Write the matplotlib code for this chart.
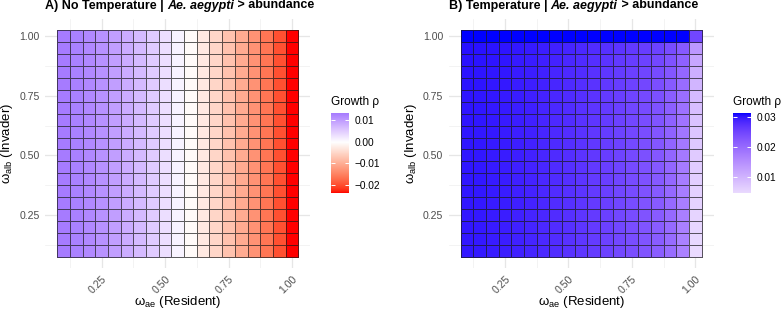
import numpy as np
import matplotlib
matplotlib.use("Agg")
import matplotlib.pyplot as plt
from matplotlib.colors import ListedColormap, Normalize

plt.rcParams["font.family"] = ["Liberation Sans", "DejaVu Sans"]
plt.rcParams["mathtext.fontset"] = "custom"
plt.rcParams["mathtext.rm"] = "Liberation Sans"
plt.rcParams["mathtext.it"] = "Liberation Sans:italic"
plt.rcParams["mathtext.bf"] = "Liberation Sans:bold"

# ---- data (growth rate, units of 1e-3) ----
omega_ae = [0.10, 0.15, 0.20, 0.25, 0.30, 0.35, 0.40, 0.45, 0.50, 0.55,
            0.60, 0.65, 0.70, 0.75, 0.80, 0.85, 0.90, 0.95, 1.00]
omega_alb = [0.10, 0.15, 0.20, 0.25, 0.30, 0.35, 0.40, 0.45, 0.50, 0.55,
             0.60, 0.65, 0.70, 0.75, 0.80, 0.85, 0.90, 0.95, 1.00]

# panel A: same value in every row, changes along omega_ae
rho_notemp_by_ae = [13.4, 12.8, 12.0, 11.0, 9.8, 8.4, 6.9, 5.2, 3.3, 1.2,
                    -0.6, -2.7, -5.0, -7.5, -10.2, -13.1, -16.2, -19.7, -23.5]

# panel B: rows from omega_alb = 1.00 (top) down to 0.10 (bottom)
rho_temp_rows = [
    [31.3, 31.3, 31.3, 31.3, 31.3, 31.3, 31.3, 31.3, 31.3, 31.3, 31.3, 31.3, 31.3, 31.3, 31.3, 31.3, 31.3, 31.3, 25.0],
    [30.5, 30.4, 30.3, 30.2, 30.0, 29.8, 29.5, 29.2, 28.9, 28.5, 28.1, 27.6, 27.1, 26.6, 26.1, 25.5, 24.2, 22.5, 14.0],
    [30.4, 30.3, 30.2, 30.1, 29.8, 29.6, 29.3, 29.0, 28.6, 28.2, 27.7, 27.2, 26.6, 26.1, 25.5, 24.8, 23.4, 21.4, 12.0],
    [30.3, 30.2, 30.1, 30.0, 29.7, 29.5, 29.2, 28.8, 28.4, 28.0, 27.5, 26.9, 26.3, 25.7, 25.1, 24.3, 22.8, 20.6, 10.8],
    [30.3, 30.2, 30.0, 29.9, 29.6, 29.4, 29.1, 28.7, 28.3, 27.8, 27.3, 26.7, 26.1, 25.4, 24.8, 23.9, 22.3, 20.0, 10.0],
    [30.2, 30.1, 30.0, 29.8, 29.6, 29.3, 29.0, 28.6, 28.2, 27.7, 27.2, 26.5, 25.9, 25.2, 24.5, 23.7, 22.0, 19.6, 9.3],
    [30.2, 30.1, 29.9, 29.8, 29.5, 29.3, 28.9, 28.5, 28.1, 27.5, 27.0, 26.4, 25.7, 25.0, 24.3, 23.4, 21.7, 19.2, 8.7],
    [30.2, 30.1, 29.9, 29.7, 29.5, 29.2, 28.8, 28.4, 28.0, 27.4, 26.9, 26.3, 25.6, 24.9, 24.1, 23.2, 21.4, 18.9, 8.2],
    [30.1, 30.0, 29.9, 29.7, 29.4, 29.2, 28.8, 28.4, 27.9, 27.4, 26.8, 26.2, 25.5, 24.8, 24.0, 23.0, 21.2, 18.6, 7.8],
    [30.1, 30.0, 29.8, 29.7, 29.4, 29.1, 28.7, 28.3, 27.8, 27.3, 26.7, 26.1, 25.4, 24.6, 23.8, 22.8, 21.0, 18.3, 7.4],
    [30.1, 30.0, 29.8, 29.6, 29.4, 29.1, 28.7, 28.2, 27.8, 27.2, 26.7, 26.0, 25.3, 24.5, 23.7, 22.7, 20.8, 18.1, 7.1],
    [30.1, 30.0, 29.8, 29.6, 29.3, 29.0, 28.7, 28.2, 27.7, 27.2, 26.6, 25.9, 25.2, 24.4, 23.6, 22.6, 20.7, 17.9, 6.8],
    [30.1, 30.0, 29.8, 29.6, 29.3, 29.0, 28.6, 28.2, 27.7, 27.1, 26.5, 25.9, 25.1, 24.3, 23.5, 22.5, 20.6, 17.7, 6.5],
    [30.1, 30.0, 29.8, 29.6, 29.3, 29.0, 28.6, 28.1, 27.6, 27.1, 26.5, 25.8, 25.0, 24.3, 23.4, 22.4, 20.4, 17.6, 6.2],
    [30.0, 29.9, 29.7, 29.6, 29.3, 29.0, 28.6, 28.1, 27.6, 27.0, 26.4, 25.8, 25.0, 24.2, 23.3, 22.3, 20.3, 17.4, 6.0],
    [30.0, 29.9, 29.7, 29.5, 29.2, 28.9, 28.6, 28.1, 27.6, 27.0, 26.4, 25.7, 24.9, 24.2, 23.3, 22.2, 20.3, 17.3, 5.7],
    [30.0, 29.9, 29.7, 29.5, 29.2, 28.9, 28.5, 28.0, 27.6, 27.0, 26.4, 25.7, 24.9, 24.1, 23.2, 22.1, 20.2, 17.2, 5.5],
    [30.0, 29.9, 29.7, 29.5, 29.2, 28.9, 28.5, 28.0, 27.5, 26.9, 26.3, 25.6, 24.8, 24.1, 23.2, 22.1, 20.1, 17.1, 5.2],
    [30.0, 29.9, 29.7, 29.5, 29.2, 28.9, 28.5, 28.0, 27.5, 26.9, 26.3, 25.6, 24.8, 24.0, 23.1, 22.0, 20.0, 17.0, 4.9],
]

axis_ticks = [0.25, 0.50, 0.75, 1.00]
notemp_legend_ticks = [0.01, 0.00, -0.01, -0.02]
temp_legend_ticks = [0.03, 0.02, 0.01]


# ---- ggplot-like gradient2 (red / white / blue, interpolated in Lab) ----
_M = np.array([[0.4124564, 0.3575761, 0.1804375],
               [0.2126729, 0.7151522, 0.0721750],
               [0.0193339, 0.1191920, 0.9503041]])
_WHITE = np.array([0.95047, 1.0, 1.08883])


def to_lab(rgb):
    rgb = np.asarray(rgb, dtype=float)
    lin = np.where(rgb <= 0.04045, rgb / 12.92, ((rgb + 0.055) / 1.055) ** 2.4)
    xyz = lin @ _M.T / _WHITE
    f = np.where(xyz > 0.008856, np.cbrt(xyz), 7.787 * xyz + 16 / 116)
    return np.stack([116 * f[..., 1] - 16,
                     500 * (f[..., 0] - f[..., 1]),
                     200 * (f[..., 1] - f[..., 2])], axis=-1)


def from_lab(lab):
    fy = (lab[..., 0] + 16) / 116
    f = np.stack([fy + lab[..., 1] / 500, fy, fy - lab[..., 2] / 200], axis=-1)
    xyz = np.where(f ** 3 > 0.008856, f ** 3, (f - 16 / 116) / 7.787) * _WHITE
    lin = np.clip(xyz @ np.linalg.inv(_M).T, 0, 1)
    rgb = np.where(lin <= 0.0031308, 12.92 * lin, 1.055 * lin ** (1 / 2.4) - 0.055)
    return np.clip(rgb, 0, 1)


ANCHORS = to_lab([[1, 0, 0], [1, 1, 1], [0, 0, 1]])


def gradient2_cmap(vmin, vmax, n=512):
    vals = np.linspace(vmin, vmax, n)
    span = max(abs(vmin), abs(vmax))
    t = 0.5 + vals / (2 * span)
    lab = np.stack([np.interp(t, [0, 0.5, 1], ANCHORS[:, k]) for k in range(3)], axis=-1)
    return ListedColormap(from_lab(lab))


# ---- figure ----
W, H = 784, 309
fig = plt.figure(figsize=(W / 100, H / 100), dpi=100)


def px_box(x0, y0, x1, y1):
    """pixel box (top-left origin) -> figure fraction rect"""
    return [x0 / W, 1 - y1 / H, (x1 - x0) / W, (y1 - y0) / H]


def title_parts(x_px, parts):
    y = 1 - 8.5 / H
    fig.canvas.draw()
    r = fig.canvas.get_renderer()
    x = x_px / W
    for txt, style in parts:
        t = fig.text(x, y, txt, fontsize=9, fontweight="bold", fontstyle=style,
                     ha="left", va="baseline", color="black")
        bb = t.get_window_extent(r)
        x += bb.width / W


def panel(values, left_px, cbar_px, title, legend_ticks):
    values = np.asarray(values) / 1000.0
    vmin, vmax = values.min(), values.max()
    cmap = gradient2_cmap(vmin, vmax)
    norm = Normalize(vmin, vmax)

    ax = fig.add_axes(px_box(left_px, 19, left_px + 265, 268))
    ax.pcolormesh(omega_ae, omega_alb, values, shading="nearest", cmap=cmap, norm=norm,
                  edgecolors=(0.1, 0.1, 0.1, 0.7), linewidth=0.4, zorder=2)
    ax.set_xlim(0.0275, 1.0725)
    ax.set_ylim(0.0275, 1.0725)
    ax.set_xticks(axis_ticks)
    ax.set_yticks(axis_ticks)
    ax.set_xticks([0.125, 0.375, 0.625, 0.875], minor=True)
    ax.set_yticks([0.125, 0.375, 0.625, 0.875], minor=True)
    ax.set_xticklabels([f"{v:.2f}" for v in axis_ticks], rotation=45, ha="right",
                       va="top", rotation_mode="anchor")
    ax.set_yticklabels([f"{v:.2f}" for v in axis_ticks])
    ax.tick_params(which="both", length=0, labelsize=7.6, labelcolor="#4d4d4d")
    ax.tick_params(axis="x", pad=4)
    ax.tick_params(axis="y", pad=4)
    ax.grid(which="major", color="#e6e6e6", linewidth=0.9, zorder=0)
    ax.grid(which="minor", color="#efefef", linewidth=0.5, zorder=0)
    ax.set_axisbelow(True)
    for s in ax.spines.values():
        s.set_visible(False)

    cx = left_px + 132.5
    fig.text(cx / W, 1 - 304.5 / H, "\u03c9$_{\\mathrm{ae}}$ (Resident)", fontsize=9.5,
             ha="center", va="baseline")
    fig.text((left_px - 38) / W, 1 - 143.5 / H, "\u03c9$_{\\mathrm{alb}}$ (Invader)",
             fontsize=9.5, rotation=90, ha="center", va="center")

    # colourbar, drawn as ggplot does it
    cax = fig.add_axes(px_box(cbar_px, 112.7, cbar_px + 18, 192.7))
    cax.imshow(np.linspace(vmin, vmax, 256)[:, None], cmap=cmap, norm=norm,
               aspect="auto", origin="lower", extent=[0, 1, vmin, vmax])
    cax.set_xlim(0, 1)
    cax.set_ylim(vmin, vmax)
    cax.hlines(legend_ticks, 0, 0.2, color="white", linewidth=0.7)
    cax.hlines(legend_ticks, 0.8, 1, color="white", linewidth=0.7)
    cax.set_xticks([])
    cax.yaxis.tick_right()
    cax.set_yticks(legend_ticks)
    cax.set_yticklabels([f"{v:.2f}".replace("-", "\u2212") for v in legend_ticks])
    cax.tick_params(length=0, labelsize=7.3, pad=4)
    for s in cax.spines.values():
        s.set_visible(False)
    fig.text(cbar_px / W, 1 - 102 / H, "Growth \u03c1", fontsize=8.5, ha="left", va="center")

    title_parts(left_px, title)
    return ax


panel(np.tile(rho_notemp_by_ae, (len(omega_alb), 1)), 45.3, 331,
      [("A) No Temperature | ", "normal"), ("Ae. aegypti", "italic"), (" > abundance", "normal")],
      notemp_legend_ticks)
panel(rho_temp_rows[::-1], 448.6, 733,
      [("B) Temperature | ", "normal"), ("Ae. aegypti", "italic"), (" > abundance", "normal")],
      temp_legend_ticks)

fig.savefig("out.png", dpi=100)
